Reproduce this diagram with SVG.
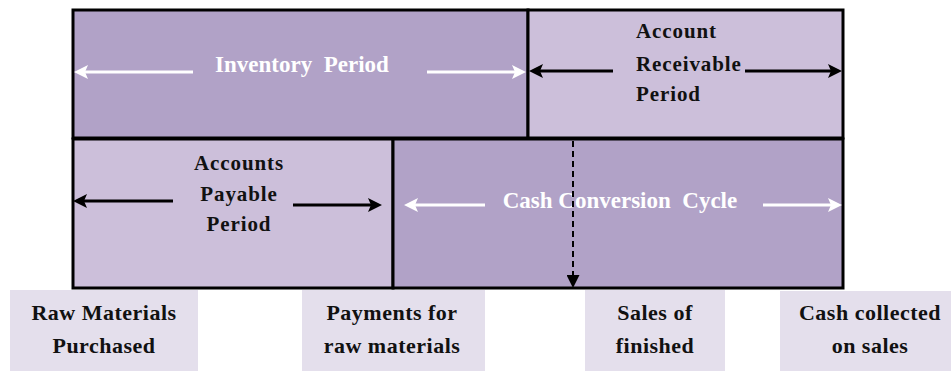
<svg xmlns="http://www.w3.org/2000/svg" width="951" height="371" viewBox="0 0 951 371" font-family="Liberation Serif" font-weight="bold">
<style>
.dark{fill:#B1A2C7;stroke:#000;stroke-width:3}
.light{fill:#CCBFDA;stroke:#000;stroke-width:3}
.lab{fill:#E4DFEC}
.w{fill:#fff;font-size:23px}
.b{fill:#111;font-size:21px;letter-spacing:0.9px}
.l{fill:#111;font-size:22px;letter-spacing:0.5px;text-anchor:middle}
.wa{stroke:#fff;stroke-width:3;fill:none}
.ba{stroke:#000;stroke-width:3;fill:none}
</style>
<defs>
<marker id="wh" viewBox="0 0 14 14" markerWidth="14" markerHeight="14" markerUnits="userSpaceOnUse" refX="10" refY="7" orient="auto">
<path d="M0,0 L14,7 L0,14 L3,7 z" fill="#fff"/>
</marker>
<marker id="bh" viewBox="0 0 14 14" markerWidth="14" markerHeight="14" markerUnits="userSpaceOnUse" refX="10" refY="7" orient="auto">
<path d="M0,0 L14,7 L0,14 L3,7 z" fill="#000"/>
</marker>
<marker id="dh" viewBox="0 0 13 13" markerWidth="13" markerHeight="13" markerUnits="userSpaceOnUse" refX="11" refY="6.5" orient="auto">
<path d="M0,0 L13,6.5 L0,13 z" fill="#000"/>
</marker>
</defs>
<g id="inventory">
<rect class="dark" x="73" y="10" width="455" height="128"/>
<text class="w" x="302" y="72" text-anchor="middle" xml:space="preserve">Inventory  Period</text>
</g>
<g id="receivable">
<rect class="light" x="528" y="10" width="315" height="128"/>
<text class="b" x="636" y="38">Account</text>
<text class="b" x="636" y="71">Receivable</text>
<text class="b" x="636" y="101">Period</text>
</g>
<g id="payable">
<rect class="light" x="73" y="139" width="320" height="149"/>
<text class="b" x="239" y="170" text-anchor="middle">Accounts</text>
<text class="b" x="239" y="201" text-anchor="middle">Payable</text>
<text class="b" x="239" y="231" text-anchor="middle">Period</text>
</g>
<g id="ccc">
<rect class="dark" x="393" y="139" width="450" height="149"/>
<text class="w" x="620" y="208" text-anchor="middle" xml:space="preserve">Cash Conversion  Cycle</text>
</g>
<g id="raw">
<rect class="lab" x="10" y="290" width="188" height="81"/>
<text class="l" x="104" y="320">Raw Materials</text>
<text class="l" x="104" y="353">Purchased</text>
</g>
<g id="payments">
<rect class="lab" x="302" y="290" width="183" height="81"/>
<text class="l" x="392" y="320">Payments for</text>
<text class="l" x="392" y="353">raw materials</text>
</g>
<g id="sales">
<rect class="lab" x="585" y="290" width="140" height="81"/>
<text class="l" x="655" y="320">Sales of</text>
<text class="l" x="655" y="353">finished</text>
</g>
<g id="cash">
<rect class="lab" x="780" y="291" width="171" height="80"/>
<text class="l" x="870" y="320">Cash collected</text>
<text class="l" x="870" y="353">on sales</text>
</g>
<g id="connectors">
<line class="wa" x1="193" y1="72" x2="78" y2="72" marker-end="url(#wh)"/>
<line class="wa" x1="427" y1="72" x2="522" y2="72" marker-end="url(#wh)"/>
<line class="ba" x1="613" y1="71" x2="533" y2="71" marker-end="url(#bh)"/>
<line class="ba" x1="745" y1="71" x2="838" y2="71" marker-end="url(#bh)"/>
<line class="ba" x1="173" y1="201" x2="77" y2="201" marker-end="url(#bh)"/>
<line class="ba" x1="293" y1="205" x2="378" y2="205" marker-end="url(#bh)"/>
<line class="wa" x1="485" y1="205" x2="408" y2="205" marker-end="url(#wh)"/>
<line class="wa" x1="763" y1="205" x2="838" y2="205" marker-end="url(#wh)"/>
<line x1="573" y1="141" x2="573" y2="286" stroke="#000" stroke-width="2" stroke-dasharray="6,4" marker-end="url(#dh)"/>
</g>
</svg>
